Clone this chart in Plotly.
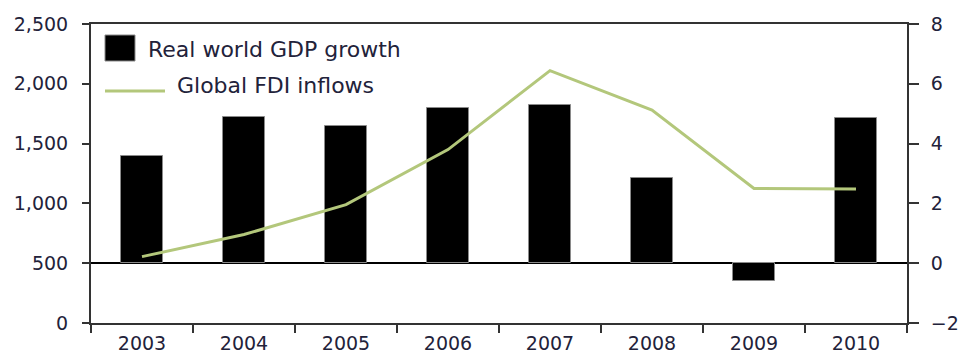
import plotly.graph_objects as go

# Data
years = ["2003", "2004", "2005", "2006", "2007", "2008", "2009", "2010"]
gdp_growth = [3.6, 4.9, 4.6, 5.2, 5.3, 2.85, -0.6, 4.85]          # %, right axis
fdi_inflows = [555, 740, 990, 1450, 2110, 1780, 1125, 1120]       # $ billion, left axis

left_ticks = [0, 500, 1000, 1500, 2000, 2500]
right_ticks = [-2, 0, 2, 4, 6, 8]

TEXT = "#22223a"
AXIS = "#333333"
GREEN = "#b3c77b"
FONT = "DejaVu Sans"

W, H = 959, 356
L, R, T, B = 91, 907, 24, 323


def px(x):
    return (x - L) / (R - L)


def py(y):
    return (B - y) / (B - T)


fig = go.Figure()

fig.add_trace(go.Bar(
    x=years, y=gdp_growth, yaxis="y", width=0.42,
    marker=dict(color="black", line=dict(color="#8a8a8a", width=1)),
    name="Real world GDP growth", showlegend=False,
))

fig.add_trace(go.Scatter(
    x=years, y=fdi_inflows, yaxis="y2", mode="lines",
    line=dict(color=GREEN, width=3),
    name="Global FDI inflows", showlegend=False,
))

tickfont = dict(family=FONT, size=19, color=TEXT)

fig.update_layout(
    width=W, height=H,
    margin=dict(l=L, r=W - R, t=T, b=H - B, pad=0),
    paper_bgcolor="white", plot_bgcolor="white",
    showlegend=False,
    bargap=0,
    xaxis=dict(
        type="category", range=[-0.5, 7.5], automargin=False,
        showline=True, mirror=True, linecolor=AXIS, linewidth=2,
        ticks="outside", tickson="boundaries", ticklen=8, tickwidth=2, tickcolor=AXIS,
        showgrid=False, tickfont=dict(family=FONT, size=19, color=TEXT),
        ticklabelstandoff=2,
    ),
    yaxis=dict(
        side="right", range=[-2, 8], tickvals=right_ticks, automargin=False,
        showline=True, mirror=True, linecolor=AXIS, linewidth=2,
        ticks="outside", ticklen=10, tickwidth=2, tickcolor=AXIS,
        showgrid=False, zeroline=True, zerolinecolor="black", zerolinewidth=1.5,
        tickfont=tickfont, ticklabelstandoff=8,
    ),
    yaxis2=dict(
        side="left", overlaying="y", range=[0, 2500], tickvals=left_ticks,
        tickformat=",", showline=False, automargin=False,
        ticks="outside", ticklen=8, tickwidth=2, tickcolor=AXIS,
        showgrid=False, zeroline=False, tickfont=tickfont, ticklabelstandoff=10,
    ),
)

# Legend drawn inside the plot area
fig.add_shape(type="rect", xref="paper", yref="paper",
              x0=px(105), x1=px(135), y0=py(61), y1=py(35),
              fillcolor="black", line=dict(color="#8a8a8a", width=1))
fig.add_shape(type="line", xref="paper", yref="paper",
              x0=px(105), x1=px(165), y0=py(91), y1=py(91),
              line=dict(color=GREEN, width=3))
legend_font = dict(family=FONT, size=22, color=TEXT)
fig.add_annotation(xref="paper", yref="paper", x=px(146), y=py(49),
                   xanchor="left", yanchor="middle", showarrow=False,
                   text="Real world GDP growth", font=legend_font)
fig.add_annotation(xref="paper", yref="paper", x=px(175), y=py(85),
                   xanchor="left", yanchor="middle", showarrow=False,
                   text="Global FDI inflows", font=legend_font)

fig.write_html("out.html")
